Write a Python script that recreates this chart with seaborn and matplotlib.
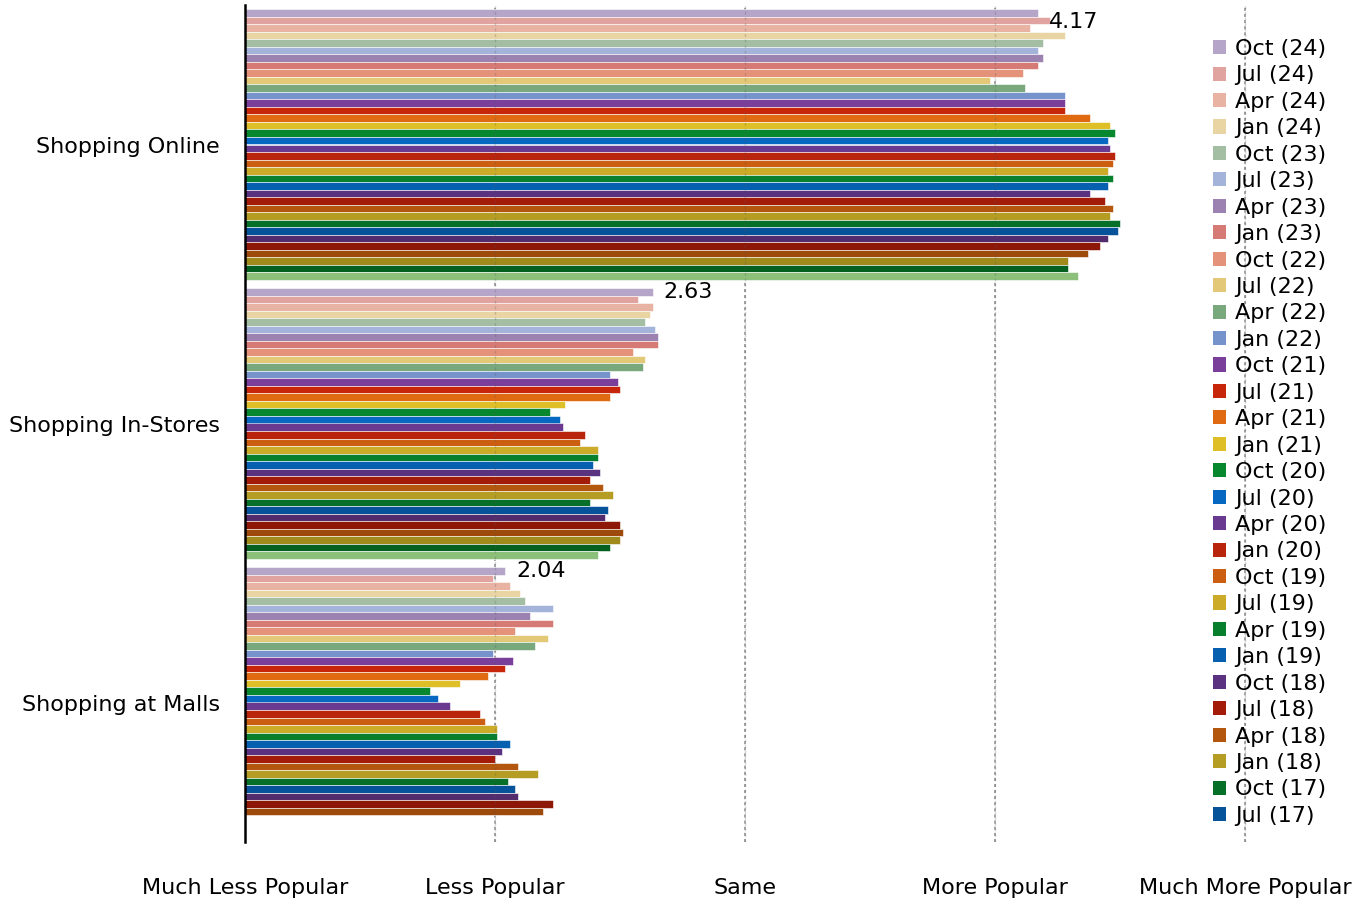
import numpy as np
import pandas as pd
import matplotlib
matplotlib.use("Agg")
import matplotlib.pyplot as plt
from matplotlib.patches import Patch
import seaborn as sns

categories = ["Shopping Online", "Shopping In-Stores", "Shopping at Malls"]

periods = [
    "Oct (24)", "Jul (24)", "Apr (24)", "Jan (24)",
    "Oct (23)", "Jul (23)", "Apr (23)", "Jan (23)",
    "Oct (22)", "Jul (22)", "Apr (22)", "Jan (22)",
    "Oct (21)", "Jul (21)", "Apr (21)", "Jan (21)",
    "Oct (20)", "Jul (20)", "Apr (20)", "Jan (20)",
    "Oct (19)", "Jul (19)", "Apr (19)", "Jan (19)",
    "Oct (18)", "Jul (18)", "Apr (18)", "Jan (18)",
    "Oct (17)", "Jul (17)", "Apr (17)", "Jan (17)",
    "Oct (16)", "Jul (16)", "Apr (16)", "Jan (16)",
]

colors = [
    "#b5a5c8", "#e0a3a0", "#e8b3a3", "#e8d5a3",
    "#a3bea3", "#a3b3d9", "#9b82b0", "#d57a75",
    "#e5927a", "#e3c977", "#78a87c", "#7693cc",
    "#7a3f9a", "#c8260a", "#e06a12", "#dfbf28",
    "#08882e", "#0668c0", "#6a3a90", "#b8240c",
    "#cc5e12", "#cbab28", "#077f2c", "#075fb0",
    "#5a3280", "#a31c0a", "#b3560e", "#b59c22",
    "#066f28", "#06539a", "#532c6e", "#8e1808",
    "#9e4a0c", "#a08a1c", "#05601f", "#8cc07a",
]

online = [4.17, 4.22, 4.14, 4.28, 4.19, 4.17, 4.19, 4.17, 4.11, 3.98, 4.12, 4.28,
          4.28, 4.28, 4.38, 4.46, 4.48, 4.45, 4.46, 4.48, 4.47, 4.45, 4.47, 4.45,
          4.38, 4.44, 4.47, 4.46, 4.50, 4.49, 4.45, 4.42, 4.37, 4.29, 4.29, 4.33]

in_stores = [2.63, 2.57, 2.63, 2.62, 2.60, 2.64, 2.65, 2.65, 2.55, 2.60, 2.59, 2.46,
             2.49, 2.50, 2.46, 2.28, 2.22, 2.26, 2.27, 2.36, 2.34, 2.41, 2.41, 2.39,
             2.42, 2.38, 2.43, 2.47, 2.38, 2.45, 2.44, 2.50, 2.51, 2.50, 2.46, 2.41]

malls = [2.04, 1.99, 2.06, 2.10, 2.12, 2.23, 2.14, 2.23, 2.08, 2.21, 2.16, 1.99,
         2.07, 2.04, 1.97, 1.86, 1.74, 1.77, 1.82, 1.94, 1.96, 2.01, 2.01, 2.06,
         2.03, 2.00, 2.09, 2.17, 2.05, 2.08, 2.09, 2.23, 2.19, np.nan, np.nan, np.nan]

scale_ticks = [1, 2, 3, 4, 5]
scale_labels = ["Much Less Popular", "Less Popular", "Same", "More Popular", "Much More Popular"]

legend_count = 30

# long-form table for seaborn
rows = []
for cat, vals in zip(categories, [online, in_stores, malls]):
    for p, v in zip(periods, vals):
        rows.append({"category": cat, "period": p, "value": v})
df = pd.DataFrame(rows)

sns.set_theme(style="white")
plt.rcParams["font.family"] = ["DejaVu Sans"]
plt.rcParams["text.color"] = "black"
plt.rcParams["xtick.color"] = "black"
plt.rcParams["ytick.color"] = "black"
FS = 16

fig = plt.figure(figsize=(13.56, 9.05), dpi=100)
W, H = 1356, 905
ax = fig.add_axes([245 / W, 1 - 842 / H, 1010 / W, (842 - 5) / H])

sns.barplot(
    data=df, y="category", x="value", hue="period",
    order=categories, hue_order=periods, palette=colors,
    orient="h", width=0.97, saturation=1, errorbar=None,
    edgecolor="white", linewidth=0.4, legend=False, ax=ax, zorder=2,
)

ax.set_xlim(1, 5.04)
ax.set_ylim(2.5, -0.5)

# dashed reference lines at each scale step
for t in scale_ticks[1:]:
    ax.axvline(t, color="#8a8a8a", linestyle=(0, (2, 2)), linewidth=1.1, zorder=1)
    ax.axvline(t, color="#555555", linestyle=(0, (2, 2)), linewidth=1.0, alpha=0.25, zorder=3)

for s in ["top", "right", "bottom"]:
    ax.spines[s].set_visible(False)
ax.spines["left"].set_color("black")
ax.spines["left"].set_linewidth(1.8)

ax.set_xticks(scale_ticks)
ax.set_xticklabels(scale_labels, fontsize=FS, color="black")
ax.tick_params(axis="x", length=0, pad=26)
ax.tick_params(axis="y", length=0, pad=18, labelsize=FS, labelcolor="black")
ax.set_xlabel("")
ax.set_ylabel("")

# value labels for the latest period
first = ax.containers[0]
latest_vals = [online[0], in_stores[0], malls[0]]
for bar, v in zip(first, latest_vals):
    yc = bar.get_y() + bar.get_height() / 2
    yc = max(yc, -0.5 + 0.06)
    ax.annotate(f"{v:.2f}", xy=(v, yc), xytext=(8, 0), textcoords="offset points",
                ha="left", va="center", fontsize=FS, color="black", zorder=5)

handles = [Patch(facecolor=c, edgecolor="none") for c in colors[:legend_count]]
leg = fig.legend(handles, periods[:legend_count], loc="upper left",
                 bbox_to_anchor=(1213 / W, 1 - 39 / H), frameon=False,
                 fontsize=FS, handlelength=0.6, handleheight=0.6,
                 handletextpad=0.4, labelspacing=0.29, borderpad=0, borderaxespad=0)
for t in leg.get_texts():
    t.set_color("black")

fig.savefig("out.png", dpi=100)
